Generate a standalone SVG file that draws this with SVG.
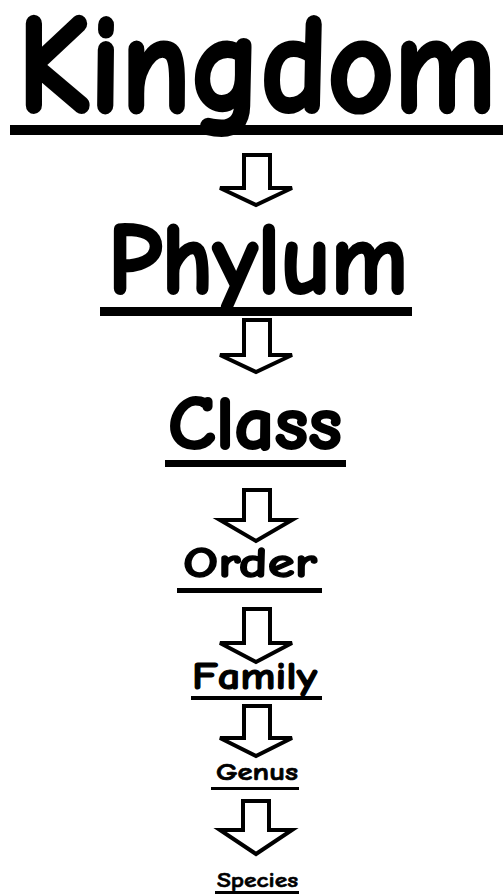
<svg xmlns="http://www.w3.org/2000/svg" width="503" height="896" viewBox="0 0 503 896">
<style>
.t{font-family:"Comic Sans MS","Comic Neue","DejaVu Sans",sans-serif;font-weight:bold;fill:#000;stroke:#000;stroke-linejoin:round;stroke-linecap:round}
.u{fill:#000}
.a{fill:#fff;stroke:#000;stroke-width:4;stroke-linejoin:miter}
</style>
<rect width="503" height="896" fill="#fff"/>
<g id="kingdom">
<text class="t" x="18" y="111" font-size="140" stroke-width="4" textLength="478" lengthAdjust="spacingAndGlyphs">Kingdom</text>
<rect class="u" x="10" y="125" width="493" height="10"/>
</g>
<g id="phylum">
<text class="t" x="108" y="293" font-size="101" stroke-width="3" textLength="300" lengthAdjust="spacingAndGlyphs">Phylum</text>
<rect class="u" x="100" y="307" width="312" height="9"/>
</g>
<g id="class">
<text class="t" x="168" y="449" font-size="76" stroke-width="2.2" textLength="174" lengthAdjust="spacingAndGlyphs">Class</text>
<rect class="u" x="165" y="460" width="181" height="7"/>
</g>
<g id="order">
<text class="t" x="183" y="577" font-size="42" stroke-width="1.3" textLength="134" lengthAdjust="spacingAndGlyphs">Order</text>
<rect class="u" x="177" y="588" width="145" height="5"/>
</g>
<g id="family">
<text class="t" x="192" y="689" font-size="39" stroke-width="1.2" textLength="125" lengthAdjust="spacingAndGlyphs">Family</text>
<rect class="u" x="191" y="696" width="131" height="4"/>
</g>
<g id="genus">
<text class="t" x="216" y="780" font-size="24" stroke-width="0.7" textLength="82" lengthAdjust="spacingAndGlyphs">Genus</text>
<rect class="u" x="211" y="787" width="88" height="3"/>
</g>
<g id="species">
<text class="t" x="217" y="887" font-size="20" stroke-width="0.6" textLength="81" lengthAdjust="spacingAndGlyphs">Species</text>
<rect class="u" x="215" y="891" width="84" height="3"/>
</g>
<g id="connectors">
<path class="a" d="M244,155 L270,155 L270,188 L292,188 L256,205 L220,188 L244,188 Z"/>
<path class="a" d="M244,320 L270,320 L270,355 L292,355 L256,372 L220,355 L244,355 Z"/>
<path class="a" d="M244,490 L270,490 L270,520 L292,520 L256,541 L220,520 L244,520 Z"/>
<path class="a" d="M244,609 L270,609 L270,643 L292,643 L256,662 L220,643 L244,643 Z"/>
<path class="a" d="M244,706 L270,706 L270,738 L292,738 L256,756 L220,738 L244,738 Z"/>
<path class="a" d="M243,801 L269,801 L269,830 L292,830 L256,854 L220,830 L243,830 Z"/>
</g>
</svg>
